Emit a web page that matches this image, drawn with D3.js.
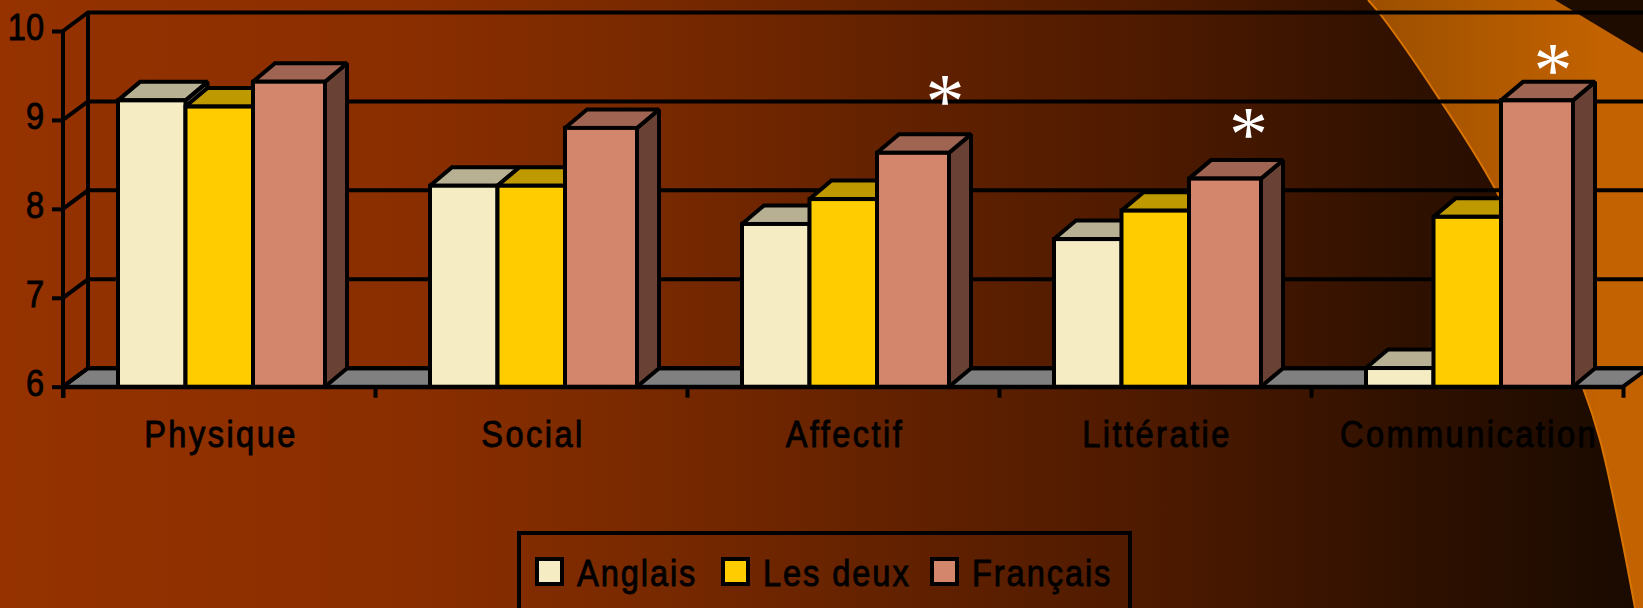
<!DOCTYPE html>
<html lang="fr">
<head>
<meta charset="UTF-8">
<title>Physique Social Affectif</title>
<script src="https://d3js.org/d3.v7.min.js"></script>
<style>
  html, body { margin: 0; padding: 0; background: #3a1400; overflow: hidden; }
  svg { display: block; }
  .lbl { font-family: "Liberation Sans", sans-serif; font-size: 37px; fill: #000; stroke: #000; stroke-width: 0.9px; letter-spacing: 2.8px; }
  .star { font-family: "Liberation Serif", serif; font-size: 78px; fill: #fff; text-anchor: middle; }
  .axis path, .axis line { stroke: #000; stroke-width: 4px; }
</style>
</head>
<body>
<div id="chart"></div>
<script>
// values
const categories = ["Physique", "Social", "Affectif", "Littératie", "Communication"];
const seriesNames = ["Anglais", "Les deux", "Français"];
const anglais = [9.22, 8.26, 7.83, 7.66, 6.21];
const lesDeux = [9.15, 8.26, 8.11, 7.98, 7.91];
const francais = [9.43, 8.91, 8.63, 8.34, 9.22];
const yTicks = [6, 7, 8, 9, 10];
// significance stars: x in category units, y in score units
const starX = [2.827, 3.80, 4.776];
const starY = [9.36, 8.99, 9.71];

const colors = ["#F5ECC3", "#FFCC00", "#D4866D"];
const topColors = ["#B8B093", "#BF9900", "#A06552"];
const sideColors = ["#7B7662", "#806600", "#6A4235"];

const W = 1643, H = 608;
const x0 = 63, x1 = 1623, yBase = 386.7, yTop = 31;
const wallDx = 25, wallDy = -18.5;   // depth of the chart box
const barDx = 22, barDy = -18.5;     // depth of one bar
const squeeze = 0.88;                // the labels are a narrow face

const svg = d3.select("#chart").append("svg").attr("width", W).attr("height", H);

// background
const defs = svg.append("defs");
const bg = defs.append("linearGradient").attr("id", "bg");
[[0, "#953200"], [0.25, "#8a2e00"], [0.4, "#782900"], [0.57, "#5f2000"], [0.7, "#4e1a00"], [0.85, "#311100"], [1, "#190a00"]]
  .forEach(s => bg.append("stop").attr("offset", s[0]).attr("stop-color", s[1]));
const sw = defs.append("linearGradient").attr("id", "swoosh").attr("gradientUnits", "userSpaceOnUse")
  .attr("x1", 1368).attr("x2", 1600).attr("y1", 0).attr("y2", 0);
sw.append("stop").attr("offset", 0).attr("stop-color", "#9c4f00");
sw.append("stop").attr("offset", 1).attr("stop-color", "#c26200");

svg.append("rect").attr("width", W).attr("height", H).attr("fill", "url(#bg)");

const edge = [[1368, 0], [1380, 14], [1440, 100], [1500, 198], [1583, 388], [1600, 440], [1620, 530], [1635, 608]];
const edgeLine = d3.line().curve(d3.curveCatmullRom);
svg.append("path")
  .attr("d", edgeLine(edge) + "L1643,608L1643,0Z")
  .attr("fill", "url(#swoosh)");
svg.append("path")
  .attr("d", edgeLine(edge))
  .attr("fill", "none").attr("stroke", "#d97400").attr("stroke-width", 2);
svg.append("path")
  .attr("d", "M1555,0L1643,53L1643,0Z")
  .attr("fill", "#1f0c00");

// scales
const y = d3.scaleLinear().domain([6, 10]).range([yBase, yTop]);
const xBand = d3.scaleBand().domain(categories).range([x0, x1]);
const xEdge = d3.scaleLinear().domain([0, 5]).range([x0, x1]);
const xInner = d3.scaleBand().domain(seriesNames).range([55, 257.5]);

// floor
svg.append("path")
  .attr("d", `M${x0},${yBase}L${x0 + wallDx},${yBase + wallDy}L${x1 + wallDx},${yBase + wallDy}L${x1},${yBase}Z`)
  .attr("fill", "#808080").attr("stroke", "#000").attr("stroke-width", 4);

// back wall gridlines and the side wall
yTicks.forEach(t => {
  svg.append("path")
    .attr("d", `M${x0},${y(t)}L${x0 + wallDx},${y(t) + wallDy}L${W + 5},${y(t) + wallDy}`)
    .attr("fill", "none").attr("stroke", "#000").attr("stroke-width", 4);
});
svg.append("line")
  .attr("x1", x0 + wallDx).attr("x2", x0 + wallDx)
  .attr("y1", y(10) + wallDy).attr("y2", y(6) + wallDy)
  .attr("stroke", "#000").attr("stroke-width", 4);

// bars, series by series inside each category
const table = [anglais, lesDeux, francais];
const groups = svg.selectAll(".cat")
  .data(categories)
  .enter().append("g")
    .attr("class", "cat")
    .attr("transform", d => `translate(${xBand(d)},0)`);

groups.each(function(cat, c) {
  const g = d3.select(this);
  seriesNames.forEach((name, s) => {
    const left = xInner(name);
    const w = xInner.bandwidth() + (s === 2 ? 4.5 : 0);
    const top = y(table[s][c]);
    const bar = g.append("g").attr("stroke", "#000").attr("stroke-width", 4)
      .attr("stroke-linejoin", "miter").attr("stroke-miterlimit", 1.5);
    bar.append("path")
      .attr("d", `M${left + w},${top}L${left + w + barDx},${top + barDy}L${left + w + barDx},${yBase + barDy}L${left + w},${yBase}Z`)
      .attr("fill", sideColors[s]);
    bar.append("path")
      .attr("d", `M${left},${top}L${left + barDx},${top + barDy}L${left + w + barDx},${top + barDy}L${left + w},${top}Z`)
      .attr("fill", topColors[s]);
    bar.append("rect")
      .attr("x", left).attr("y", top).attr("width", w).attr("height", yBase - top)
      .attr("fill", colors[s]);
  });
});

// axes
const yAxis = svg.append("g").attr("class", "axis")
  .attr("transform", `translate(${x0},0)`)
  .call(d3.axisLeft(y).tickValues(yTicks).tickFormat(d3.format("d")).tickSize(11).tickSizeOuter(0));
yAxis.selectAll("text")
  .attr("class", "lbl")
  .attr("x", -19 / squeeze)
  .attr("dy", "0.24em")
  .attr("transform", `scale(${squeeze},1)`)
  .style("letter-spacing", "0px");
yAxis.select(".domain").attr("d", `M0,${yTop}V${yBase + 11}`);

const xTickAxis = svg.append("g").attr("class", "axis")
  .attr("transform", `translate(0,${yBase})`)
  .call(d3.axisBottom(xEdge).tickValues(d3.range(0, 6)).tickSize(11).tickSizeOuter(0).tickFormat(""));

const xLabels = svg.append("g").attr("class", "axis")
  .attr("transform", `translate(2,${yBase})`)
  .call(d3.axisBottom(xBand).tickSize(0).tickPadding(34));
xLabels.select(".domain").remove();
xLabels.selectAll("text")
  .attr("class", "lbl")
  .attr("dy", "0.71em")
  .attr("transform", `scale(${squeeze},1)`);

// stars
svg.selectAll(".star")
  .data(starX)
  .enter().append("text")
    .attr("class", "star")
    .attr("x", d => xEdge(d))
    .attr("y", (d, i) => y(starY[i]))
    .attr("dy", "0.5em")
    .text("*");

// legend
svg.append("rect")
  .attr("x", 519).attr("y", 533).attr("width", 611).attr("height", 90)
  .attr("fill", "none").attr("stroke", "#000").attr("stroke-width", 4);
const legendX = d3.scaleOrdinal().domain(seriesNames).range([537, 723, 932]);
const legend = svg.selectAll(".leg")
  .data(seriesNames)
  .enter().append("g")
    .attr("class", "leg")
    .attr("transform", d => `translate(${legendX(d)},559)`);
legend.append("rect")
  .attr("width", 25).attr("height", 25)
  .attr("fill", (d, i) => colors[i])
  .attr("stroke", "#000").attr("stroke-width", 4);
legend.append("text")
  .attr("class", "lbl")
  .attr("x", 40 / squeeze).attr("y", 27)
  .attr("transform", `scale(${squeeze},1)`)
  .style("letter-spacing", "2.2px")
  .text(d => d);
</script>
</body>
</html>
